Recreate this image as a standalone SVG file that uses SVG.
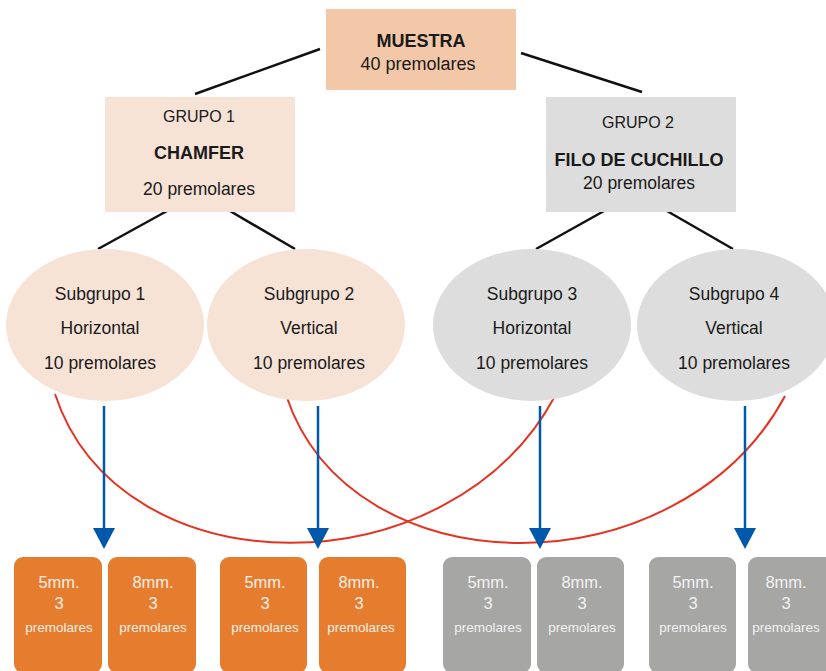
<svg xmlns="http://www.w3.org/2000/svg" width="826" height="671" viewBox="0 0 826 671">
<defs>
<style>
text{font-family:"Liberation Sans",Arial,sans-serif;text-anchor:middle;fill:#1a1a1a}
.b{font-weight:bold}
.t18{font-size:18px}
.t16{font-size:16px}
.t17{font-size:17.5px}
.line{stroke:#111;stroke-width:2.5;fill:none}
.red{stroke:#e53323;stroke-width:2;fill:none}
.blue{stroke:#0058aa;stroke-width:2.5;fill:none}
.ob{fill:#e67c2e}
.gb{fill:#a6a6a5}
.bt{fill:#fbefe6}
.gt{fill:#f2f2f2}
.s1{font-size:16.5px}
.s2{font-size:13.5px}
</style>
<marker id="ah" markerWidth="22" markerHeight="22" viewBox="0 0 22 22" refX="11" refY="21" orient="auto-start-reverse" markerUnits="userSpaceOnUse">
<path d="M0,0 L22,0 L11,21 Z" fill="#0058aa" transform="rotate(0)"/>
</marker>
</defs>
<rect width="826" height="671" fill="#ffffff"/>

<g id="connectors">
<line class="line" x1="320" y1="49" x2="195" y2="94"/>
<line class="line" x1="521" y1="53" x2="642" y2="92"/>
<line class="line" x1="167" y1="211" x2="98" y2="249"/>
<line class="line" x1="230" y1="211" x2="295" y2="249"/>
<line class="line" x1="604" y1="211" x2="536" y2="249"/>
<line class="line" x1="667" y1="211" x2="733" y2="249"/>
<path class="red" d="M55,394 C120,592 450,592 555,396"/>
<path class="red" d="M286,395 C351,592 680,592 785,396"/>
<line class="blue" x1="104" y1="406" x2="104" y2="530"/>
<line class="blue" x1="318" y1="406" x2="318" y2="530"/>
<line class="blue" x1="540" y1="406" x2="540" y2="530"/>
<line class="blue" x1="745" y1="406" x2="745" y2="530"/>
<path d="M93,528 L115,528 L104,549 Z" fill="#0058aa"/>
<path d="M307,528 L329,528 L318,549 Z" fill="#0058aa"/>
<path d="M529,528 L551,528 L540,549 Z" fill="#0058aa"/>
<path d="M734,528 L756,528 L745,549 Z" fill="#0058aa"/>
</g>

<g id="muestra">
<rect x="326" y="9" width="190" height="81" fill="#f2c8a9"/>
<text class="b t18" x="421" y="47">MUESTRA</text>
<text class="t18" x="418" y="70">40 premolares</text>
</g>

<g id="grupo1">
<rect x="105" y="97" width="190" height="115" fill="#f7e2d6"/>
<text class="t16" x="199" y="122">GRUPO 1</text>
<text class="b t18" x="199" y="159">CHAMFER</text>
<text class="t17" x="199" y="195">20 premolares</text>
</g>

<g id="grupo2">
<rect x="546" y="97" width="190" height="115" fill="#dcdddc"/>
<text class="t16" x="638" y="128">GRUPO 2</text>
<text class="b t18" x="639" y="166">FILO DE CUCHILLO</text>
<text class="t17" x="639" y="189">20 premolares</text>
</g>

<g id="subgrupo1">
<ellipse cx="105" cy="325" rx="99" ry="76" fill="#f7e2d6"/>
<text class="t17" x="100" y="300">Subgrupo 1</text>
<text class="t17" x="100" y="334">Horizontal</text>
<text class="t17" x="100" y="369">10 premolares</text>
</g>
<g id="subgrupo2">
<ellipse cx="306" cy="325" rx="99" ry="76" fill="#f7e2d6"/>
<text class="t17" x="309" y="300">Subgrupo 2</text>
<text class="t17" x="309" y="334">Vertical</text>
<text class="t17" x="309" y="369">10 premolares</text>
</g>
<g id="subgrupo3">
<ellipse cx="532" cy="325" rx="99" ry="76" fill="#dcdddc"/>
<text class="t17" x="532" y="300">Subgrupo 3</text>
<text class="t17" x="532" y="334">Horizontal</text>
<text class="t17" x="532" y="369">10 premolares</text>
</g>
<g id="subgrupo4">
<ellipse cx="736" cy="325" rx="99" ry="76" fill="#dcdddc"/>
<text class="t17" x="734" y="300">Subgrupo 4</text>
<text class="t17" x="734" y="334">Vertical</text>
<text class="t17" x="734" y="369">10 premolares</text>
</g>

<g id="box1">
<rect class="ob" x="14" y="557" width="88" height="116" rx="9"/>
<text class="bt s1" x="59" y="588">5mm.</text>
<text class="bt s1" x="59" y="609">3</text>
<text class="bt s2" x="59" y="632">premolares</text>
</g>
<g id="box2">
<rect class="ob" x="108" y="557" width="88" height="116" rx="9"/>
<text class="bt s1" x="153" y="588">8mm.</text>
<text class="bt s1" x="153" y="609">3</text>
<text class="bt s2" x="153" y="632">premolares</text>
</g>
<g id="box3">
<rect class="ob" x="220" y="557" width="87" height="116" rx="9"/>
<text class="bt s1" x="265" y="588">5mm.</text>
<text class="bt s1" x="265" y="609">3</text>
<text class="bt s2" x="265" y="632">premolares</text>
</g>
<g id="box4">
<rect class="ob" x="319" y="557" width="87" height="116" rx="9"/>
<text class="bt s1" x="359" y="588">8mm.</text>
<text class="bt s1" x="359" y="609">3</text>
<text class="bt s2" x="361" y="632">premolares</text>
</g>
<g id="box5">
<rect class="gb" x="443" y="557" width="88" height="116" rx="9"/>
<text class="gt s1" x="488" y="588">5mm.</text>
<text class="gt s1" x="488" y="609">3</text>
<text class="gt s2" x="488" y="632">premolares</text>
</g>
<g id="box6">
<rect class="gb" x="537" y="557" width="87" height="116" rx="9"/>
<text class="gt s1" x="582" y="588">8mm.</text>
<text class="gt s1" x="582" y="609">3</text>
<text class="gt s2" x="582" y="632">premolares</text>
</g>
<g id="box7">
<rect class="gb" x="649" y="557" width="87" height="116" rx="9"/>
<text class="gt s1" x="693" y="588">5mm.</text>
<text class="gt s1" x="693" y="609">3</text>
<text class="gt s2" x="693" y="632">premolares</text>
</g>
<g id="box8">
<rect class="gb" x="748" y="557" width="88" height="116" rx="9"/>
<text class="gt s1" x="786" y="588">8mm.</text>
<text class="gt s1" x="786" y="609">3</text>
<text class="gt s2" x="786" y="632">premolares</text>
</g>
</svg>
